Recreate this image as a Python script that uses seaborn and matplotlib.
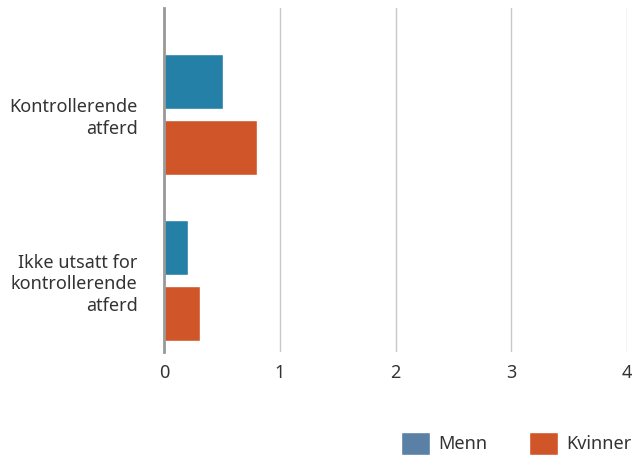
import pandas as pd
import seaborn as sns
from matplotlib import pyplot as plt
from matplotlib.patches import Patch

# data
categories = ["Kontrollerende\natferd", "Ikke utsatt for\nkontrollerende\natferd"]
menn = [0.51, 0.21]
kvinner = [0.80, 0.31]
series = ["Menn", "Kvinner"]

bar_colors = ["#2580a8", "#d0562a"]
legend_colors = ["#5b80a5", "#d0562a"]

df = pd.DataFrame({
    "kategori": categories * 2,
    "verdi": menn + kvinner,
    "kjonn": [series[0]] * 2 + [series[1]] * 2,
})

sns.set_theme(style="white")
plt.rcParams["font.family"] = ["Noto Sans", "DejaVu Sans"]

fig = plt.figure(figsize=(6.34, 4.55), dpi=100)
ax = fig.add_axes([164 / 634, 1 - 352 / 455, (627 - 164) / 634, 344 / 455])

sns.barplot(data=df, x="verdi", y="kategori", hue="kjonn", palette=bar_colors,
            width=0.8, gap=0.17, ax=ax, legend=False, saturation=1)

ax.set_xlim(0, 4)
ax.set_ylim(1.43, -0.64)
ax.set_xticks([0, 1, 2, 3, 4])
ax.set_xlabel("")
ax.set_ylabel("")
ax.grid(axis="x", color="#c8c8c8", lw=1)
ax.set_axisbelow(True)
for s in ["top", "right", "bottom"]:
    ax.spines[s].set_visible(False)
ax.spines["left"].set_color("#999999")
ax.spines["left"].set_linewidth(2)
ax.tick_params(axis="both", length=0, labelsize=13, colors="#333333")
ax.tick_params(axis="x", pad=9)
ax.tick_params(axis="y", pad=19)
for lab in ax.get_yticklabels():
    lab.set_linespacing(1.25)
    lab.set_horizontalalignment("right")

handles = [Patch(facecolor=c, label=l) for c, l in zip(legend_colors, series)]
fig.legend(handles=handles, loc="lower right", bbox_to_anchor=(631 / 634, 0.0), ncol=2,
           frameon=False, fontsize=13, handlelength=1.6, handleheight=1.6,
           columnspacing=2.3, handletextpad=0.45, borderpad=0, borderaxespad=0,
           labelcolor="#333333")

fig.savefig("out.png", dpi=100)
